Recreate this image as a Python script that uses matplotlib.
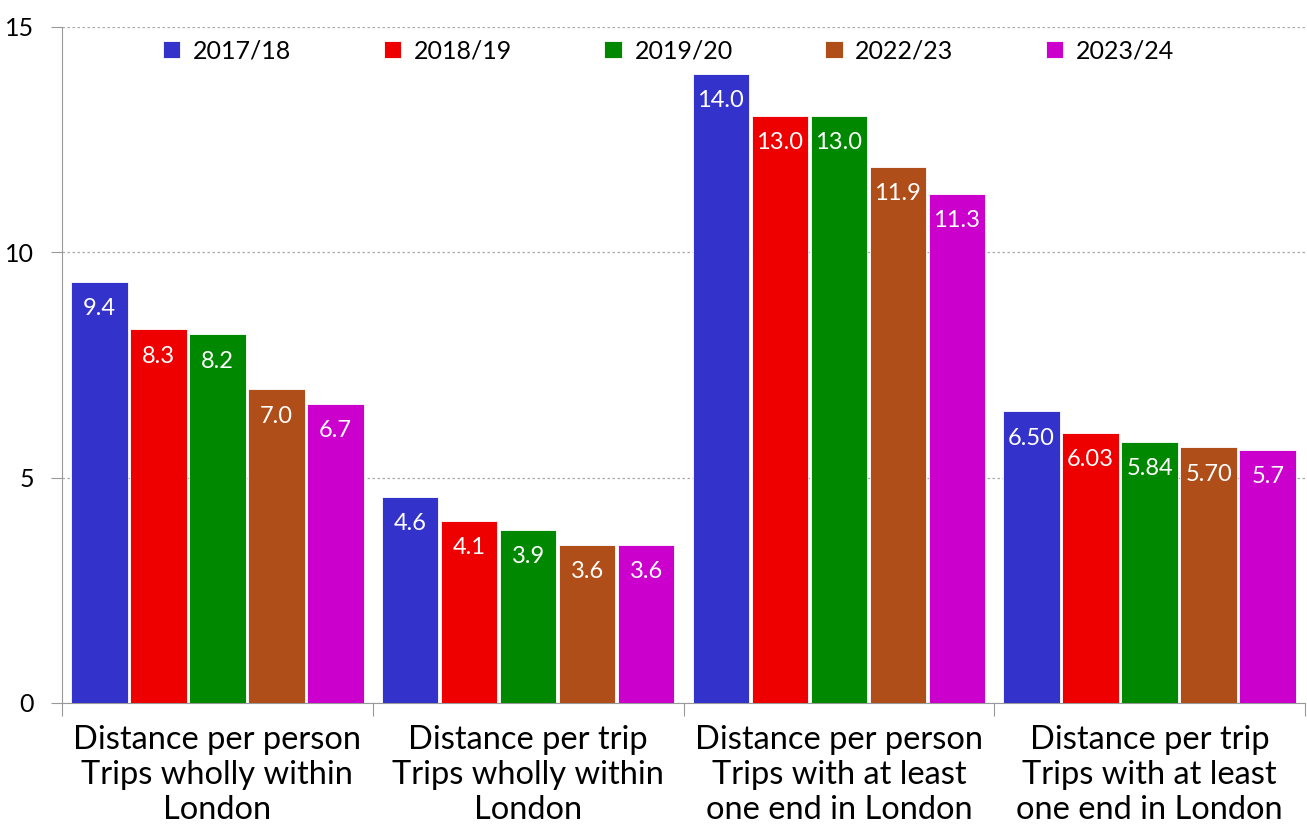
import matplotlib
matplotlib.use("Agg")
import matplotlib.pyplot as plt
import numpy as np

plt.rcParams['font.family'] = ['Lato', 'DejaVu Sans']

categories = ["Distance per person\nTrips wholly within\nLondon",
              "Distance per trip\nTrips wholly within\nLondon",
              "Distance per person\nTrips with at least\none end in London",
              "Distance per trip\nTrips with at least\none end in London"]
series = ["2017/18", "2018/19", "2019/20", "2022/23", "2023/24"]
colors = ["#3333CC", "#EE0000", "#008800", "#B04E1A", "#CC00CC"]

v_2017 = [9.35, 4.58, 13.96, 6.47]
v_2018 = [8.29, 4.04, 13.02, 6.00]
v_2019 = [8.18, 3.84, 13.02, 5.80]
v_2022 = [6.96, 3.51, 11.89, 5.67]
v_2023 = [6.64, 3.51, 11.29, 5.62]
values = [v_2017, v_2018, v_2019, v_2022, v_2023]

l_2017 = ["9.4", "4.6", "14.0", "6.50"]
l_2018 = ["8.3", "4.1", "13.0", "6.03"]
l_2019 = ["8.2", "3.9", "13.0", "5.84"]
l_2022 = ["7.0", "3.6", "11.9", "5.70"]
l_2023 = ["6.7", "3.6", "11.3", "5.7"]
labels = [l_2017, l_2018, l_2019, l_2022, l_2023]

fig = plt.figure(figsize=(13.07, 8.25), dpi=100)
ax = fig.add_axes([62/1307, 122/825, 1243/1307, 676/825])

x = np.arange(len(categories))
slot = 0.19
width = 0.182
for i, (s, c) in enumerate(zip(series, colors)):
    pos = x + (i - 2) * slot
    bars = ax.bar(pos, values[i], width, color=c, label=s,
                  edgecolor='white', linewidth=0.6, zorder=3)
    for b, lab in zip(bars, labels[i]):
        ax.text(b.get_x() + b.get_width()/2, b.get_height() - 0.36, lab,
                ha='center', va='top', color='white', fontsize=17, zorder=4)

ax.set_xlim(-0.5, len(categories) - 0.5)
ax.set_ylim(0, 15)
ax.set_yticks([0, 5, 10, 15])
ax.yaxis.grid(True, linestyle=(0, (2, 2)), color='#AAAAAA', linewidth=0.9, zorder=0)
ax.set_axisbelow(True)

ax.set_xticks(np.arange(-0.5, len(categories), 1.0))
ax.set_xticklabels([])
ax.set_xticks(x, minor=True)
ax.set_xticklabels(categories, minor=True, fontsize=23.5, linespacing=1.2)
ax.tick_params(axis='x', which='major', length=9, color='#999999', direction='out')
ax.tick_params(axis='x', which='minor', length=0, pad=16)
ax.tick_params(axis='y', length=8, color='#999999', labelsize=18, pad=12)

for side in ['top', 'right']:
    ax.spines[side].set_visible(False)
ax.spines['left'].set_color('#999999')
ax.spines['bottom'].set_color('#999999')

ax.legend(loc='upper center', bbox_to_anchor=(0.488, 1.015), ncol=5, frameon=False,
          fontsize=18, handlelength=0.7, handleheight=0.7, handletextpad=0.5,
          columnspacing=3.7)

fig.savefig("out.png", dpi=100)
